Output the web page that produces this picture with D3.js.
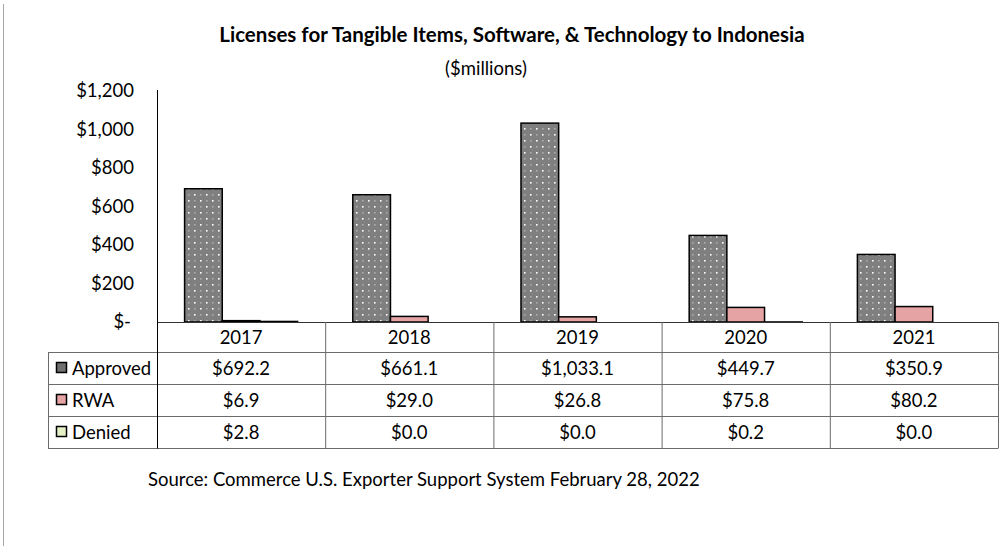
<!DOCTYPE html>
<html lang="en">
<head>
<meta charset="UTF-8">
<title>Licenses to Indonesia</title>
<script src="https://d3js.org/d3.v7.min.js"></script>
<style>
    body { margin: 0; background: #fff; }
    svg text { font-family: Lato, "Open Sans", sans-serif; fill: #000; }
</style>
</head>
<body>
<svg id="chart" width="1002" height="548"></svg>
<script>
    // chart data
    const years = ["2017", "2018", "2019", "2020", "2021"];
    const seriesNames = ["Approved", "RWA", "Denied"];
    const approved = [692.2, 661.1, 1033.1, 449.7, 350.9];
    const rwa = [6.9, 29.0, 26.8, 75.8, 80.2];
    const denied = [2.8, 0.0, 0.0, 0.2, 0.0];
    const yTicks = [0, 200, 400, 600, 800, 1000, 1200];

    const seriesValues = [approved, rwa, denied];
    const fills = ["url(#dots)", "#e6a3a3", "#e4f1c6"];
    const keyFills = ["#6f6f6f", "#e6a3a3", "#e4f1c6"];

    const svg = d3.select("#chart");
    const plotLeft = 157, plotRight = 998, baseY = 322, topY = 91;
    const rowH = 32, headH = 30, legendLeft = 48;
    const fs = "18.5px";

    // dotted fill for the approved bars
    const defs = svg.append("defs");
    const pat = defs.append("pattern")
        .attr("id", "dots").attr("patternUnits", "userSpaceOnUse")
        .attr("width", 12).attr("height", 12);
    pat.append("rect").attr("width", 12).attr("height", 12).attr("fill", "#7f7f7f");
    [[2, 2, 1], [8, 8, 1], [8, 2, 0.35], [2, 8, 0.35]].forEach(d => {
        pat.append("rect").attr("x", d[0]).attr("y", d[1])
            .attr("width", 1.6).attr("height", 1.6)
            .attr("fill", "#fff").attr("opacity", d[2]);
    });

    // left page edge line
    svg.append("line").attr("x1", 3.5).attr("x2", 3.5).attr("y1", 4).attr("y2", 546)
        .attr("stroke", "#a6a6a6").attr("stroke-width", 1);

    // titles
    svg.append("text").attr("x", 512).attr("y", 42).attr("text-anchor", "middle")
        .style("font-weight", "bold").style("font-size", "20.5px")
        .text("Licenses for Tangible Items, Software, & Technology to Indonesia");
    svg.append("text").attr("x", 486).attr("y", 75).attr("text-anchor", "middle")
        .style("font-size", fs).text("($millions)");

    const x = d3.scaleBand().domain(years).range([plotLeft, plotRight]);
    const inner = d3.scaleBand().domain(seriesNames)
        .range([0, x.bandwidth() * 0.672])
        .paddingInner(0);
    const groupOffset = (x.bandwidth() - inner.range()[1]) / 2;
    const y = d3.scaleLinear().domain([0, 1200]).range([baseY, topY]);

    // y axis labels
    const yAxis = d3.axisLeft(y).tickValues(yTicks).tickSize(0).tickPadding(0)
        .tickFormat(v => v === 0 ? "$-" : "$" + d3.format(",")(v));
    const yg = svg.append("g").attr("transform", `translate(134,0)`).call(yAxis);
    yg.select(".domain").remove();
    yg.selectAll("text").style("font-size", fs).style("font-family", "Lato, sans-serif")
        .attr("fill", "#000").attr("dx", v => v === 0 ? -3 : 0);

    // bars
    seriesNames.forEach((name, si) => {
        svg.append("g").selectAll("rect")
            .data(years.map((yr, i) => ({ yr, v: seriesValues[si][i] })))
            .join("rect")
            .attr("x", d => x(d.yr) + groupOffset + inner(name))
            .attr("y", d => y(d.v))
            .attr("width", inner.bandwidth())
            .attr("height", d => baseY - y(d.v))
            .attr("fill", fills[si])
            .attr("stroke", "#000").attr("stroke-width", 1.5);
    });

    // data table
    const tableBottom = baseY + headH + rowH * 3;
    const lineColor = "#6b6b6b";
    const tg = svg.append("g");
    // horizontal lines
    tg.append("line").attr("x1", plotLeft).attr("x2", plotRight)
        .attr("y1", baseY + 0.5).attr("y2", baseY + 0.5).attr("stroke", "#333");
    for (let r = 0; r <= 3; r++) {
        const yy = baseY + headH + rowH * r + 0.5;
        tg.append("line").attr("x1", legendLeft).attr("x2", plotRight)
            .attr("y1", yy).attr("y2", yy).attr("stroke", lineColor);
    }
    // vertical lines
    years.forEach((yr, i) => {
        if (i === 0) return;
        tg.append("line").attr("x1", x(yr) + 0.5).attr("x2", x(yr) + 0.5)
            .attr("y1", baseY).attr("y2", tableBottom).attr("stroke", lineColor);
    });
    tg.append("line").attr("x1", plotRight + 0.5).attr("x2", plotRight + 0.5)
        .attr("y1", baseY).attr("y2", tableBottom + 0.5).attr("stroke", lineColor);
    tg.append("line").attr("x1", legendLeft + 0.5).attr("x2", legendLeft + 0.5)
        .attr("y1", baseY + headH).attr("y2", tableBottom + 0.5).attr("stroke", lineColor);
    // value axis line, running through the table
    svg.append("line").attr("x1", plotLeft + 0.5).attr("x2", plotLeft + 0.5)
        .attr("y1", topY - 1).attr("y2", tableBottom + 0.5).attr("stroke", "#000");

    // header row
    tg.selectAll("text.yr").data(years).join("text").attr("class", "yr")
        .attr("x", d => x(d) + x.bandwidth() / 2).attr("y", baseY + headH / 2 + 6.5)
        .attr("text-anchor", "middle").style("font-size", fs).text(d => d);

    // value rows
    seriesNames.forEach((name, si) => {
        const cy = baseY + headH + rowH * si + rowH / 2;
        tg.append("rect").attr("x", 56.5).attr("y", cy - 5.5).attr("width", 10).attr("height", 10)
            .attr("fill", keyFills[si]).attr("stroke", "#000").attr("stroke-width", 1.5);
        tg.append("text").attr("x", 72).attr("y", cy + 6.5).style("font-size", fs).text(name);
        tg.selectAll("text.v" + si).data(seriesValues[si]).join("text").attr("class", "v" + si)
            .attr("x", (d, i) => x(years[i]) + x.bandwidth() / 2).attr("y", cy + 6.5)
            .attr("text-anchor", "middle").style("font-size", fs)
            .text(d => "$" + d3.format(",.1f")(d));
    });

    // source note
    svg.append("text").attr("x", 148).attr("y", 486).style("font-size", fs)
        .attr("fill", "#262626")
        .text("Source: Commerce U.S. Exporter Support System February 28, 2022");
</script>
</body>
</html>
